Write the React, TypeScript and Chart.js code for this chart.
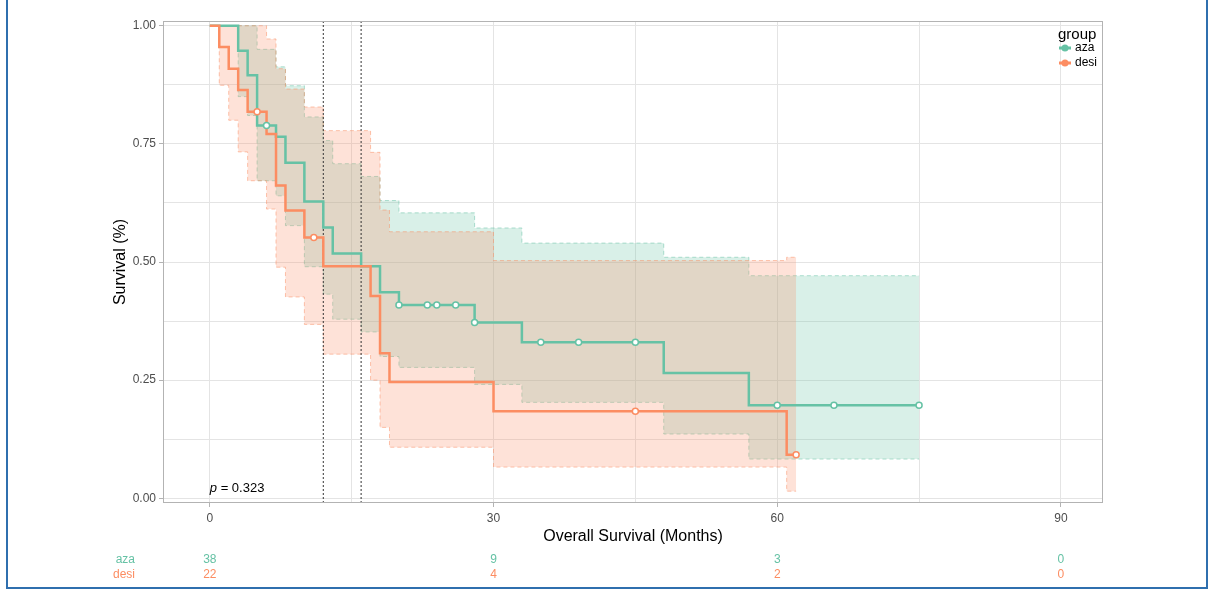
import React, { useEffect, useRef } from 'react';
import { Chart, registerables } from 'chart.js';

Chart.register(...registerables);

const FONT = '"Liberation Sans", Arial, Helvetica, sans-serif';

// Kaplan-Meier estimates (months, survival)
const azaTimes = [0, 3, 4, 5, 7, 8, 10, 12, 13, 16, 18, 20, 28, 33, 48, 57, 75];
const azaSurv = [1, 0.947, 0.895, 0.789, 0.765, 0.71, 0.628, 0.573, 0.518, 0.491, 0.436, 0.409, 0.372, 0.33, 0.265, 0.197, 0.197];
const azaCensorTimes = [6, 20, 23, 24, 26, 28, 35, 39, 45, 60, 66, 75];
const azaCensorSurv = [0.789, 0.409, 0.409, 0.409, 0.409, 0.372, 0.33, 0.33, 0.33, 0.197, 0.197, 0.197];

const desiTimes = [0, 1, 2, 3, 4, 6, 7, 8, 10, 12, 17, 18, 19, 30, 61, 62];
const desiSurv = [1, 0.955, 0.909, 0.864, 0.818, 0.771, 0.662, 0.609, 0.552, 0.491, 0.428, 0.307, 0.246, 0.184, 0.092, 0.092];
const desiCensorTimes = [5, 11, 45, 62];
const desiCensorSurv = [0.818, 0.552, 0.184, 0.092];

// Confidence bands
const azaUpperTimes = [0, 5, 7, 8, 10, 12, 13, 16, 18, 20, 28, 33, 48, 57, 75];
const azaUpper = [1, 0.95, 0.913, 0.873, 0.807, 0.757, 0.708, 0.681, 0.63, 0.604, 0.572, 0.54, 0.51, 0.471, 0.471];
const azaLowerTimes = [0, 3, 4, 5, 7, 8, 10, 12, 13, 16, 18, 20, 28, 33, 48, 57, 75];
const azaLower = [1, 0.85, 0.81, 0.672, 0.64, 0.577, 0.49, 0.432, 0.379, 0.352, 0.3, 0.277, 0.241, 0.203, 0.136, 0.083, 0.083];

const desiUpperTimes = [0, 6, 7, 8, 10, 12, 17, 18, 19, 30, 61, 62];
const desiUpper = [1, 0.972, 0.909, 0.866, 0.828, 0.778, 0.732, 0.61, 0.564, 0.503, 0.51, 0.51];
const desiLowerTimes = [0, 1, 2, 3, 4, 6, 7, 8, 10, 12, 17, 18, 19, 30, 61, 62];
const desiLower = [1, 0.874, 0.8, 0.733, 0.672, 0.612, 0.489, 0.426, 0.368, 0.305, 0.25, 0.15, 0.108, 0.066, 0.015, 0.015];

// Median survival lines
const medianTimes = [12, 16];

// Axes
const xMajorTicks = [0, 30, 60, 90];
const xGridTicks = [0, 15, 30, 45, 60, 75, 90];
const yMajorTicks = [0, 0.25, 0.5, 0.75, 1];
const yGridTicks = [0, 0.125, 0.25, 0.375, 0.5, 0.625, 0.75, 0.875, 1];
const X_MIN = -4.95;
const X_MAX = 94.45;
const Y_MIN = -0.01;
const Y_MAX = 1.01;

// Number at risk
const groups = ['aza', 'desi'];
const riskTimes = [0, 30, 60, 90];
const atRiskAza = [38, 9, 3, 0];
const atRiskDesi = [22, 4, 2, 0];
const pValueText = '0.323';

const GREEN = '#66C2A5';
const ORANGE = '#FC8D62';
const GREEN_FILL = 'rgba(102,194,165,0.25)';
const ORANGE_FILL = 'rgba(252,141,98,0.25)';
const GREEN_DASH = 'rgba(102,194,165,0.5)';
const ORANGE_DASH = 'rgba(252,141,98,0.5)';

const pts = (xs: number[], ys: number[]) => xs.map((x, i) => ({ x, y: ys[i] }));

const annotations = {
  id: 'kmAnnotations',
  afterDatasetsDraw(chart: any) {
    const { ctx, chartArea } = chart;
    ctx.save();
    ctx.strokeStyle = '#b3b3b3';
    ctx.lineWidth = 1;
    ctx.strokeRect(chartArea.left + 0.5, chartArea.top + 0.5, chartArea.right - chartArea.left - 1, chartArea.bottom - chartArea.top - 1);
    ctx.restore();
  },
  afterDraw(chart: any) {
    const { ctx, chartArea } = chart;
    const xs = chart.scales.x;
    ctx.save();
    ctx.fillStyle = '#000';
    // axis titles
    ctx.font = `16px ${FONT}`;
    ctx.textAlign = 'center';
    ctx.textBaseline = 'middle';
    ctx.fillText('Overall Survival (Months)', (chartArea.left + chartArea.right) / 2, 537);
    ctx.save();
    ctx.translate(121, (chartArea.top + chartArea.bottom) / 2);
    ctx.rotate(-Math.PI / 2);
    ctx.fillText('Survival (%)', 0, 0);
    ctx.restore();

    // p value
    ctx.textAlign = 'left';
    ctx.font = `italic 13px ${FONT}`;
    const px = xs.getPixelForValue(0);
    ctx.fillText('p', px, 488);
    const pw = ctx.measureText('p').width;
    ctx.font = `13px ${FONT}`;
    ctx.fillText(' = ' + pValueText, px + pw, 488);

    // legend
    ctx.font = `15px ${FONT}`;
    ctx.fillText('group', 1058, 35);
    const colors = [GREEN, ORANGE];
    groups.forEach((g, i) => {
      const y = 48 + i * 15;
      ctx.strokeStyle = colors[i];
      ctx.lineWidth = 3;
      ctx.beginPath();
      ctx.moveTo(1059, y);
      ctx.lineTo(1071, y);
      ctx.stroke();
      ctx.fillStyle = colors[i];
      ctx.beginPath();
      ctx.arc(1065, y, 3.5, 0, Math.PI * 2);
      ctx.fill();
      ctx.fillStyle = '#000';
      ctx.font = `12px ${FONT}`;
      ctx.fillText(g, 1075, y);
    });

    // risk table
    const rows = [atRiskAza, atRiskDesi];
    groups.forEach((g, i) => {
      const y = 560 + i * 15;
      ctx.fillStyle = colors[i];
      ctx.font = `12px ${FONT}`;
      ctx.textAlign = 'right';
      ctx.fillText(g, 135, y);
      ctx.textAlign = 'center';
      riskTimes.forEach((t, j) => {
        ctx.fillText(String(rows[i][j]), xs.getPixelForValue(t), y);
      });
    });
    ctx.restore();
  },
};

export default function App() {
  const ref = useRef<HTMLCanvasElement>(null);
  useEffect(() => {
    const canvas = ref.current;
    if (!canvas) return;
    const stepBand = (data: any[], color: string, fillColor: string, fill: any, order: number) => ({
      data,
      borderColor: color,
      borderWidth: 1,
      borderDash: [4, 3],
      backgroundColor: fillColor,
      fill,
      stepped: 'before',
      pointRadius: 0,
      order,
    });
    const chart = new Chart(canvas, {
      type: 'line',
      data: {
        datasets: [
          stepBand(pts(azaUpperTimes, azaUpper), GREEN_DASH, GREEN_FILL, 1, 10),
          stepBand(pts(azaLowerTimes, azaLower), GREEN_DASH, GREEN_FILL, false, 10),
          stepBand(pts(desiUpperTimes, desiUpper), ORANGE_DASH, ORANGE_FILL, 3, 8),
          stepBand(pts(desiLowerTimes, desiLower), ORANGE_DASH, ORANGE_FILL, false, 8),
          ...medianTimes.map((t) => ({
            data: [{ x: t, y: Y_MIN }, { x: t, y: Y_MAX }],
            borderColor: '#333',
            borderWidth: 1,
            borderDash: [2, 2],
            pointRadius: 0,
            fill: false,
            order: 6,
          })),
          {
            data: pts(azaTimes, azaSurv),
            borderColor: GREEN,
            borderWidth: 2.5,
            stepped: 'before',
            pointRadius: 0,
            fill: false,
            order: 4,
          },
          {
            data: pts(desiTimes, desiSurv),
            borderColor: ORANGE,
            borderWidth: 2.5,
            stepped: 'before',
            pointRadius: 0,
            fill: false,
            order: 3,
          },
          {
            data: pts(azaCensorTimes, azaCensorSurv),
            showLine: false,
            pointRadius: 3,
            pointBorderWidth: 1.5,
            pointBackgroundColor: '#fff',
            pointBorderColor: GREEN,
            order: 2,
          },
          {
            data: pts(desiCensorTimes, desiCensorSurv),
            showLine: false,
            pointRadius: 3,
            pointBorderWidth: 1.5,
            pointBackgroundColor: '#fff',
            pointBorderColor: ORANGE,
            order: 1,
          },
        ] as any,
      },
      options: {
        animation: false,
        responsive: false,
        devicePixelRatio: 1,
        layout: { padding: { left: 0, right: 112, top: 21, bottom: 0 } },
        plugins: {
          legend: { display: false },
          tooltip: { enabled: false },
        },
        scales: {
          x: {
            type: 'linear',
            min: X_MIN,
            max: X_MAX,
            afterBuildTicks: (s: any) => {
              s.ticks = xGridTicks.map((v) => ({ value: v }));
            },
            afterFit: (s: any) => {
              s.height = 87;
            },
            ticks: {
              autoSkip: false,
              maxRotation: 0,
              padding: 4,
              color: '#4d4d4d',
              font: { size: 12, family: FONT },
              callback: (v: any) => (xMajorTicks.includes(v) ? String(v) : ''),
            },
            grid: {
              color: '#e4e4e4',
              lineWidth: 1,
              tickLength: 4,
              tickColor: (c: any) => (c.tick && xMajorTicks.includes(c.tick.value) ? '#b3b3b3' : 'rgba(0,0,0,0)'),
            },
            border: { display: false },
          },
          y: {
            type: 'linear',
            min: Y_MIN,
            max: Y_MAX,
            afterBuildTicks: (s: any) => {
              s.ticks = yGridTicks.map((v) => ({ value: v }));
            },
            afterFit: (s: any) => {
              s.width = 163;
            },
            ticks: {
              autoSkip: false,
              padding: 3,
              color: '#4d4d4d',
              font: { size: 12, family: FONT },
              callback: (v: any) => (yMajorTicks.includes(v) ? Number(v).toFixed(2) : ''),
            },
            grid: {
              color: '#e4e4e4',
              lineWidth: 1,
              tickLength: 4,
              tickColor: (c: any) => (c.tick && yMajorTicks.includes(c.tick.value) ? '#b3b3b3' : 'rgba(0,0,0,0)'),
            },
            border: { display: false },
          },
        },
      } as any,
      plugins: [annotations],
    });
    return () => chart.destroy();
  }, []);

  return (
    <div style={{ position: 'fixed', left: 0, top: 0, width: 1215, height: 590, background: '#fff', overflow: 'hidden' }}>
      <canvas
        ref={ref}
        width={1215}
        height={590}
        style={{ position: 'absolute', left: 0, top: 0, width: 1215, height: 590 }}
      />
      <div
        style={{
          position: 'absolute',
          left: 6,
          top: 0,
          width: 1202,
          height: 589,
          boxSizing: 'border-box',
          borderLeft: '2px solid #2f6fae',
          borderRight: '2px solid #2f6fae',
          borderBottom: '2px solid #2f6fae',
          pointerEvents: 'none',
        }}
      />
    </div>
  );
}
